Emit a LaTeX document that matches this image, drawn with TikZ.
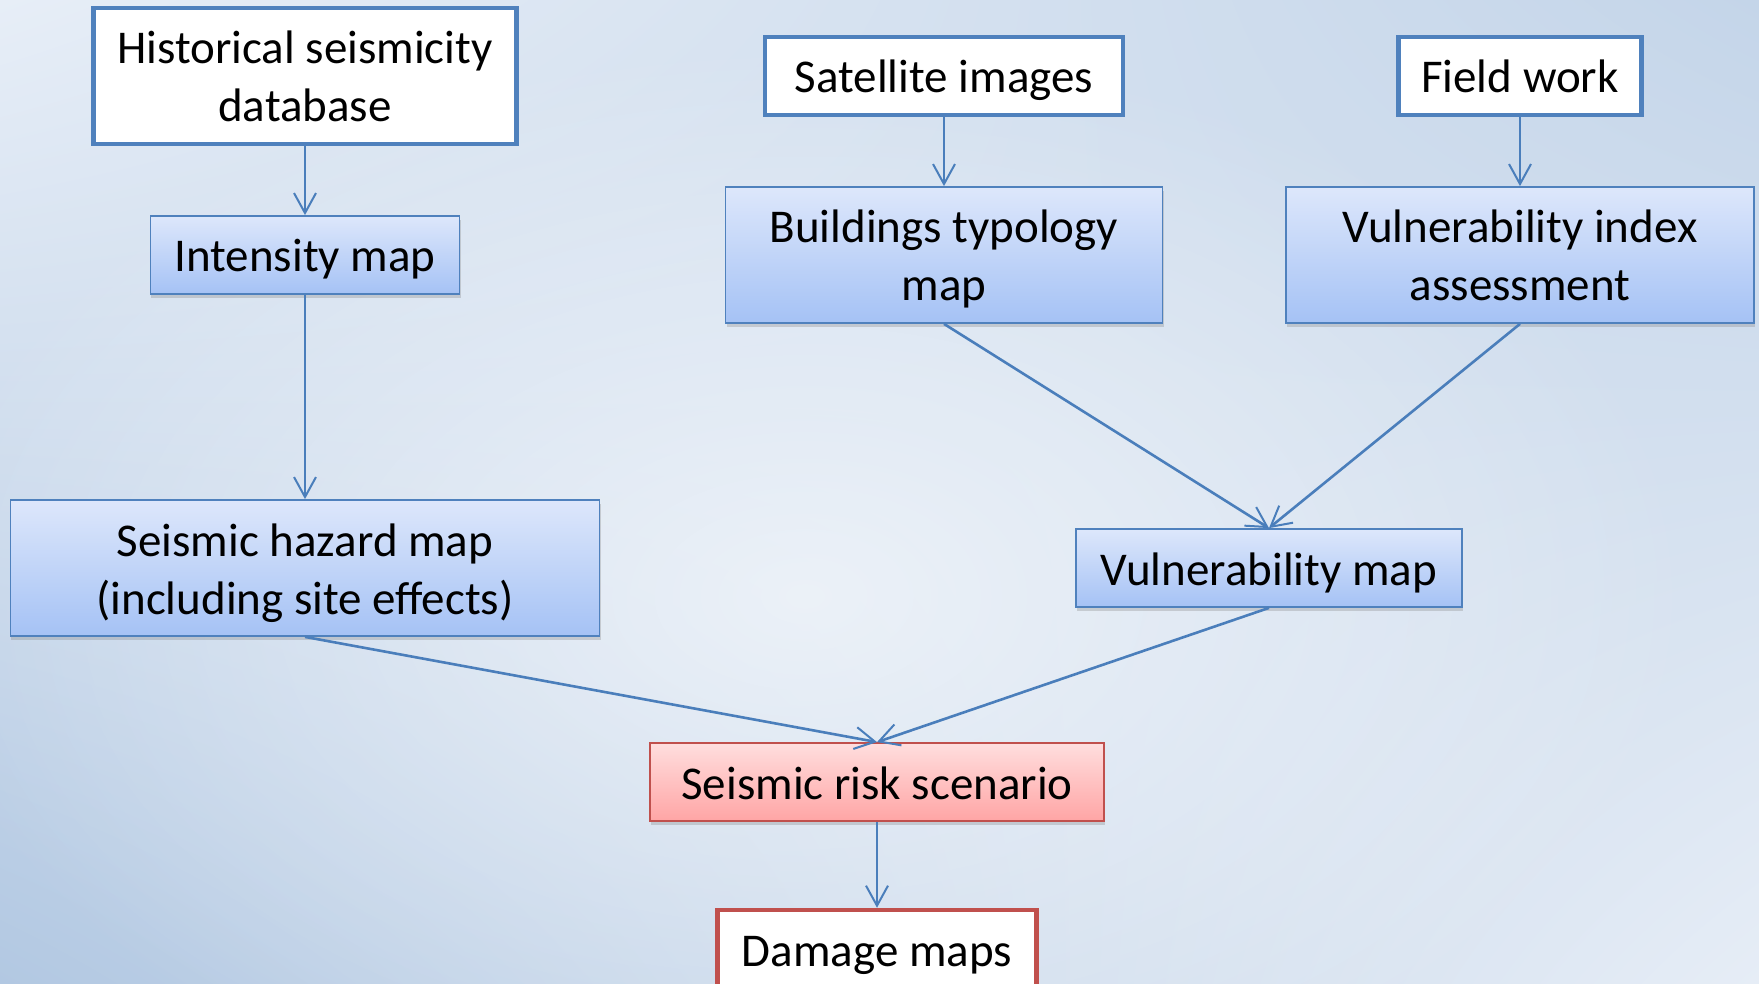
\documentclass[tikz,border=0pt]{standalone}
\usepackage{fontspec}
\setmainfont{Carlito}
\usepackage{tikz}
\usetikzlibrary{arrows.meta, shadows, fadings, shadings}

\definecolor{boxline}{HTML}{4F81BD}
\definecolor{redline}{HTML}{C0504D}
\definecolor{arrowcol}{HTML}{4A7EBB}
\definecolor{bluetop}{HTML}{DDE7FB}
\definecolor{bluebot}{HTML}{A5C2F5}
\definecolor{redtop}{HTML}{FFDEDE}
\definecolor{redbot}{HTML}{FFA5A5}
\definecolor{bgul}{HTML}{E7EEF7}
\definecolor{bgur}{HTML}{C4D5E9}
\definecolor{bgll}{HTML}{B2C8E2}
\definecolor{bglr}{HTML}{E6EDF6}

\tikzfading[name=glow, inner color=transparent!0, outer color=transparent!100]

\tikzstyle{source}  = [rectangle, text centered, align=center, draw=boxline, line width=4.5pt, fill=white, inner sep=2pt]
\tikzstyle{sink}    = [rectangle, text centered, align=center, draw=redline, line width=4.5pt, fill=white, inner sep=2pt]
\tikzstyle{process} = [rectangle, text centered, align=center, draw=boxline, line width=1.8pt, top color=bluetop, bottom color=bluebot, inner sep=2pt, drop shadow={shadow xshift=1pt, shadow yshift=-4pt, opacity=.3}]
\tikzstyle{result}  = [rectangle, text centered, align=center, draw=redline, line width=1.8pt, top color=redtop, bottom color=redbot, inner sep=2pt, drop shadow={shadow xshift=1pt, shadow yshift=-4pt, opacity=.3}]
\tikzstyle{oneline} = [text height=44pt, text depth=10pt, minimum height=78pt]
\tikzstyle{twoline} = [text height=102pt, text depth=10pt, minimum height=136pt]
\tikzstyle{arrow}   = [draw=arrowcol, line width=2pt, -{Straight Barb[length=20pt, width=22pt, line width=2pt]}]

\begin{document}
\begin{tikzpicture}[node distance=179pt, x=1pt, y=1pt, font=\fontsize{47}{58}\selectfont]

    % background
    \useasboundingbox (-305,76) rectangle (1454,-908);
    \shade[upper left=bgul, upper right=bgur, lower left=bgll, lower right=bglr] (-305,76) rectangle (1454,-908);
    \fill[white, fill opacity=.6, path fading=glow] (500,-520) ellipse (900pt and 560pt);

    \node (hist)   [source, twoline, minimum width=423pt]                                  {Historical seismicity\\database};
    \node (inten)  [process, oneline, below of=hist, minimum width=309pt]                  {Intensity map};
    \node (hazard) [process, twoline, below of=inten, yshift=-134pt, minimum width=589pt]  {Seismic hazard map\\(including site effects)};
    \node (build)  [process, twoline, right of=inten, xshift=460pt, minimum width=437pt]   {Buildings typology\\map};
    \node (sat)    [source, oneline, above of=build, minimum width=358pt]                  {Satellite images};
    \node (vindex) [process, twoline, right of=build, xshift=397pt, minimum width=468pt]   {Vulnerability index\\assessment};
    \node (field)  [source, oneline, above of=vindex, minimum width=243pt]                 {Field work};
    \node (vmap)   [process, oneline, right of=hazard, xshift=785pt, minimum width=386pt]  {Vulnerability map};
    \node (risk)   [result, oneline, below of=hazard, xshift=572pt, yshift=-35pt, minimum width=454pt] {Seismic risk scenario};
    \node (damage) [sink, oneline, below of=risk, yshift=12pt, minimum width=319pt]        {Damage maps};

    \draw [arrow] (hist) -- (inten);
    \draw [arrow] (inten) -- (hazard);
    \draw [arrow] (sat) -- (build);
    \draw [arrow] (field) -- (vindex);
    \draw [arrow, line width=2.6pt] (build.south) -- (vmap.north);
    \draw [arrow, line width=2.6pt] (vindex.south) -- (vmap.north);
    \draw [arrow, line width=2.6pt] (hazard.south) -- (risk.north);
    \draw [arrow, line width=2.6pt] (vmap.south) -- (risk.north);
    \draw [arrow] (risk) -- (damage);

\end{tikzpicture}
\end{document}
